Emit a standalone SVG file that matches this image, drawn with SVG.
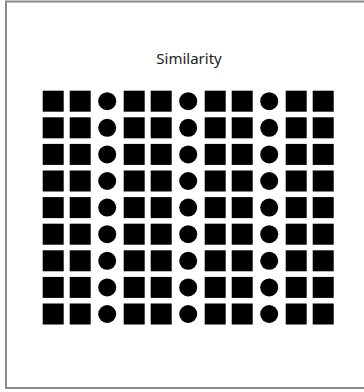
<svg xmlns="http://www.w3.org/2000/svg" xmlns:xlink="http://www.w3.org/1999/xlink" width="364" height="392" viewBox="0 0 364 392">
<style>
.frame{fill:#fff;stroke:#8a8a8a;stroke-width:2}
.title{font-family:"Noto Sans","Liberation Sans",sans-serif;font-size:15px;fill:#222;text-anchor:middle}
.s{fill:#000}
</style>
<defs>
<rect id="sq" width="21" height="21"/>
<circle id="ci" cx="10.5" cy="10.5" r="9"/>
<g id="sqcol"><use xlink:href="#sq" y="0"/><use xlink:href="#sq" y="26.6"/><use xlink:href="#sq" y="53.2"/><use xlink:href="#sq" y="79.8"/><use xlink:href="#sq" y="106.4"/><use xlink:href="#sq" y="133"/><use xlink:href="#sq" y="159.6"/><use xlink:href="#sq" y="186.2"/><use xlink:href="#sq" y="212.8"/></g>
<g id="cicol"><use xlink:href="#ci" y="0"/><use xlink:href="#ci" y="26.6"/><use xlink:href="#ci" y="53.2"/><use xlink:href="#ci" y="79.8"/><use xlink:href="#ci" y="106.4"/><use xlink:href="#ci" y="133"/><use xlink:href="#ci" y="159.6"/><use xlink:href="#ci" y="186.2"/><use xlink:href="#ci" y="212.8"/></g>
</defs>
<rect width="364" height="392" fill="#fff"/>
<rect class="frame" x="6" y="1.5" width="370" height="386.5"/>
<text class="title" x="189" y="64">Similarity</text>
<g class="s" transform="translate(42.7,90.7)">
<g id="col1"><use xlink:href="#sqcol" x="0"/></g>
<g id="col2"><use xlink:href="#sqcol" x="27"/></g>
<g id="col3"><use xlink:href="#cicol" x="54"/></g>
<g id="col4"><use xlink:href="#sqcol" x="81"/></g>
<g id="col5"><use xlink:href="#sqcol" x="108"/></g>
<g id="col6"><use xlink:href="#cicol" x="135"/></g>
<g id="col7"><use xlink:href="#sqcol" x="162"/></g>
<g id="col8"><use xlink:href="#sqcol" x="189"/></g>
<g id="col9"><use xlink:href="#cicol" x="216"/></g>
<g id="col10"><use xlink:href="#sqcol" x="243"/></g>
<g id="col11"><use xlink:href="#sqcol" x="270"/></g>
</g>
<g id="connectors"/>
</svg>
